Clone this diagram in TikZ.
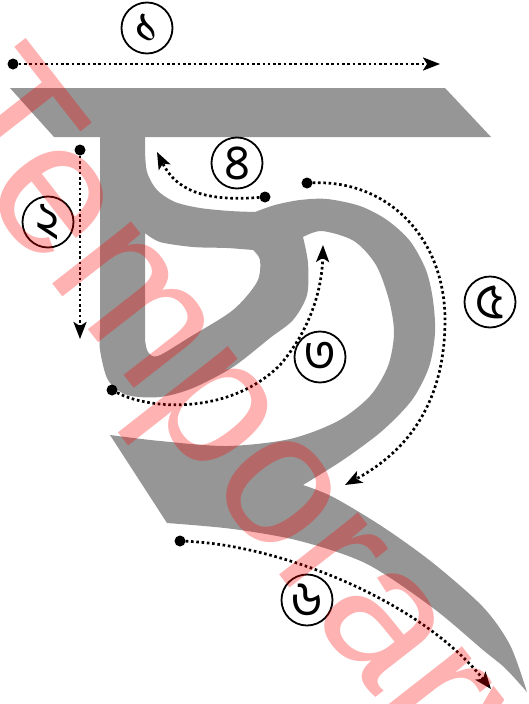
\documentclass[tikz,border=0pt]{standalone}
\usepackage{fontspec}
\newfontfamily\bn[Script=Bengali]{Hind Siliguri}
\newfontfamily\wmfont{Liberation Sans}
\usetikzlibrary{arrows.meta}
\definecolor{lettergrey}{RGB}{150,150,150}
\begin{document}
\begin{tikzpicture}[x=1pt,y=-1pt,
  letter/.style={fill=lettergrey},
  strokepath/.style={line width=2.7pt, dash pattern=on 2.6pt off 2.7pt,
    -{Stealth[length=17pt,width=13pt,inset=4pt]}},
  startdot/.style={circle, fill=black, inner sep=0pt, minimum size=11pt},
  num/.style={circle, draw, line width=1.8pt, minimum size=51pt, inner sep=0pt,
    font=\bn\fontsize{50}{50}\selectfont},
  watermark/.style={text=red, opacity=0.3, font=\wmfont\fontsize{190}{190}\selectfont, inner sep=0pt}
]
\useasboundingbox (0,0) rectangle (528,704);
\clip (0,0) rectangle (528,704);
% matra
\fill[letter] (10,88) -- (445,88) -- (491,137) -- (54,137) -- cycle;
% body of the letter
\fill[letter, even odd rule] (100,135) -- (145,135)
 -- plot[smooth,tension=0.5] coordinates {(145,150) (147,172) (157,190) (175,202) (200,208) (230,211) (255,212)}
 -- plot[smooth,tension=0.5] coordinates {(255,212) (275,205) (300,200) (327,199) (360,206) (387,220) (410,241) (426,270) (433,300) (435,333) (429,367) (412,400) (382,431) (343,460) (303,485)}
 -- plot[smooth,tension=0.5] coordinates {(303,485) (333,497) (383,527) (433,563) (483,607) (510,645) (527,692)}
 -- plot[smooth,tension=0.5] coordinates {(527,692) (505,668) (483,650) (433,608) (367,564) (300,541) (233,529) (167,523)}
 -- (110,435)
 -- plot[smooth,tension=0.5] coordinates {(110,435) (160,441) (227,446) (290,439) (338,421) (370,396) (388,366) (394,333) (389,300) (376,265) (354,241) (322,231) (303,237)}
 -- plot[smooth,tension=0.5] coordinates {(303,237) (308,263) (307,295) (293,320) (270,338) (233,367) (193,388) (160,397) (127,395) (108,380) (100,350) (100,330)}
 -- cycle
 (145,233) -- plot[smooth,tension=0.5] coordinates {(145,233) (160,242) (193,247) (227,248) (253,250)}
 -- plot[smooth,tension=0.5] coordinates {(253,250) (260,260) (257,282) (233,310) (190,337) (158,356) (148,352) (145,340)} -- cycle;

% start dots and arrow ends
\node[startdot] (d1) at (13,64) {};
\coordinate (e1) at (440,64);
\node[startdot] (d2) at (80,150) {};
\coordinate (e2) at (80,339);
\node[startdot] (d3) at (112,390) {};
\coordinate (e3) at (323,245);
\node[startdot] (d4) at (265,197) {};
\coordinate (e4) at (157,152);
\node[startdot] (d5) at (307,183) {};
\coordinate (e5) at (345,485);
\node[startdot] (d6) at (180,541) {};
\coordinate (e6) at (491,689);

\draw[strokepath] (d1) -- (e1);
\draw[strokepath] (d2) -- (e2);
\draw[strokepath] (d3) .. controls (150,410) and (230,415) .. (280,365) .. controls (310,330) and (322,290) .. (e3);
\draw[strokepath] (d4) .. controls (200,202) and (175,188) .. (e4);
\draw[strokepath] (d5) .. controls (390,180) and (445,240) .. (445,320) .. controls (445,400) and (410,450) .. (e5);
\draw[strokepath] (d6) .. controls (280,545) and (420,600) .. (e6);

% numbers
\node[num] (n1) at (147,28) {১};
\node[num] (n2) at (48,222) {২};
\node[num] (n3) at (320,357) {৩};
\node[num] (n4) at (237,163) {৪};
\node[num] (n5) at (490,302) {৫};
\node[num] (n6) at (307,600) {৬};

% watermark
\node[watermark, rotate=-52] (wm) at (233,441) {Temporary};
\end{tikzpicture}
\end{document}
